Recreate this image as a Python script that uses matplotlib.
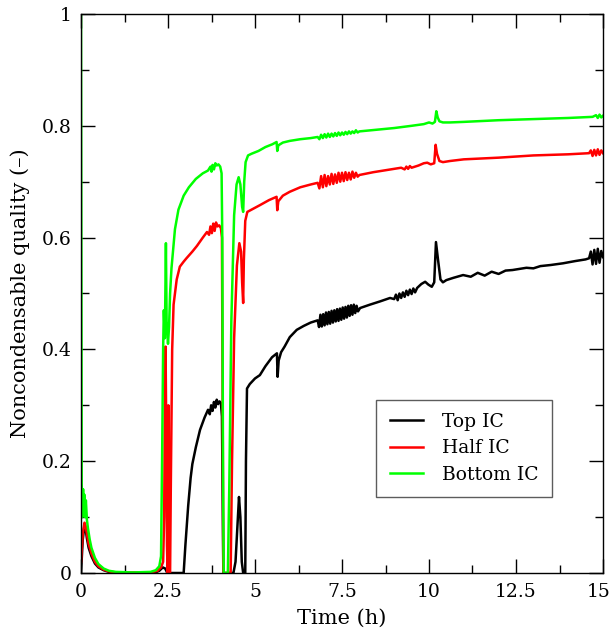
import matplotlib
matplotlib.use("Agg")
import matplotlib.pyplot as plt
import matplotlib.transforms as mtransforms
from matplotlib.ticker import MultipleLocator

plt.rcParams['font.family'] = ['DejaVu Serif']

# ---------------- data ----------------
t_bottom = [0.0, 0.02, 0.04, 0.06, 0.08, 0.1, 0.12, 0.14, 0.17, 0.2, 0.25, 0.3, 0.4, 0.5, 0.65, 0.8, 1.0, 1.5,
            2.0, 2.15, 2.25, 2.3, 2.33, 2.36, 2.38, 2.41, 2.44, 2.46, 2.5, 2.53, 2.56, 2.6, 2.7, 2.8, 2.95, 3.1,
            3.3, 3.5, 3.65, 3.72, 3.75, 3.78, 3.82, 3.86, 3.9, 3.95, 4.0, 4.04, 4.06, 4.08, 4.1, 4.22, 4.26, 4.32,
            4.4, 4.47, 4.53, 4.58, 4.63, 4.66, 4.69, 4.73, 4.8, 4.9, 5.1, 5.3, 5.5, 5.62, 5.64, 5.67, 5.8, 6.0,
            6.3, 6.6, 6.8, 6.85, 6.9, 6.95, 7.0, 7.05, 7.1, 7.15, 7.2, 7.25, 7.3, 7.35, 7.4, 7.45, 7.5, 7.55,
            7.6, 7.65, 7.7, 7.75, 7.8, 7.85, 7.9, 7.95, 8.0, 8.5, 9.0, 9.5, 9.85, 10.0, 10.1, 10.17, 10.21,
            10.25, 10.3, 10.4, 10.6, 11.0, 12.0, 13.0, 14.0, 14.7, 14.8, 14.85, 14.9, 14.95, 15.0]
y_bottom = [1.0, 0.16, 0.10, 0.15, 0.11, 0.14, 0.10, 0.13, 0.095, 0.08, 0.06, 0.045, 0.027, 0.016, 0.008, 0.004,
            0.002, 0.001, 0.002, 0.005, 0.012, 0.03, 0.2, 0.4, 0.47, 0.42, 0.59, 0.45, 0.41, 0.44, 0.50, 0.545,
            0.615, 0.65, 0.675, 0.69, 0.705, 0.715, 0.72, 0.727, 0.718, 0.73, 0.722, 0.733, 0.729, 0.731, 0.727,
            0.715, 0.6, 0.2, 0.0, 0.0, 0.15, 0.45, 0.64, 0.695, 0.708, 0.695, 0.655, 0.646, 0.7, 0.735, 0.747,
            0.75, 0.755, 0.762, 0.767, 0.771, 0.755, 0.765, 0.77, 0.773, 0.776, 0.778, 0.78, 0.776, 0.784, 0.778,
            0.785, 0.779, 0.786, 0.78, 0.786, 0.781, 0.787, 0.782, 0.788, 0.783, 0.788, 0.784, 0.789, 0.785, 0.79,
            0.786, 0.79, 0.787, 0.792, 0.788, 0.79, 0.793, 0.796, 0.8, 0.803, 0.806, 0.804, 0.807, 0.826, 0.815,
            0.808, 0.806, 0.806, 0.807, 0.81, 0.812, 0.814, 0.816, 0.819, 0.814, 0.82, 0.815, 0.818]

t_half = [0.0, 0.05, 0.1, 0.13, 0.17, 0.22, 0.3, 0.4, 0.5, 0.65, 0.8, 1.0, 2.0, 2.2, 2.3, 2.36, 2.39, 2.41, 2.43,
          2.45, 2.47, 2.49, 2.51, 2.52, 2.54, 2.56, 2.58, 2.62, 2.66, 2.75, 2.84, 2.95, 3.03, 3.2, 3.33, 3.5, 3.62,
          3.68, 3.72, 3.76, 3.8, 3.84, 3.88, 3.92, 3.97, 4.02, 4.05, 4.07, 4.09, 4.3, 4.34, 4.4, 4.48, 4.55, 4.6,
          4.63, 4.66, 4.68, 4.72, 4.78, 4.9, 5.14, 5.4, 5.62, 5.64, 5.67, 5.8, 6.0, 6.3, 6.6, 6.8, 6.85, 6.9, 6.95,
          7.0, 7.05, 7.1, 7.15, 7.2, 7.25, 7.3, 7.35, 7.4, 7.45, 7.5, 7.55, 7.6, 7.65, 7.7, 7.75, 7.8, 7.85, 7.9,
          7.95, 8.0, 8.4, 8.8, 9.2, 9.3, 9.35, 9.4, 9.45, 9.5, 9.7, 9.85, 9.95, 10.05, 10.15, 10.19, 10.23, 10.3,
          10.4, 10.6, 11.0, 12.0, 13.0, 14.0, 14.6, 14.65, 14.7, 14.75, 14.8, 14.85, 14.9, 14.95, 15.0]
y_half = [0.02, 0.07, 0.09, 0.085, 0.07, 0.052, 0.035, 0.02, 0.012, 0.006, 0.003, 0.001, 0.001, 0.004, 0.01,
          0.02, 0.1, 0.3, 0.405, 0.25, 0.05, 0.0, 0.3, 0.0, -0.01, 0.0, 0.15, 0.4, 0.48, 0.525, 0.548, 0.557,
          0.563, 0.575, 0.585, 0.6, 0.61, 0.605, 0.62, 0.608, 0.625, 0.612, 0.627, 0.62, 0.622, 0.617, 0.6, 0.3,
          0.0, 0.0, 0.2, 0.42, 0.55, 0.59, 0.575, 0.52, 0.483, 0.56, 0.63, 0.646, 0.65, 0.658, 0.667, 0.673,
          0.649, 0.665, 0.675, 0.682, 0.69, 0.695, 0.698, 0.688, 0.71, 0.69, 0.712, 0.692, 0.71, 0.695, 0.714,
          0.696, 0.713, 0.698, 0.716, 0.7, 0.716, 0.701, 0.717, 0.703, 0.716, 0.704, 0.718, 0.707, 0.716, 0.709,
          0.712, 0.717, 0.721, 0.725, 0.722, 0.727, 0.723, 0.728, 0.725, 0.729, 0.733, 0.734, 0.731, 0.733, 0.766,
          0.75, 0.737, 0.735, 0.737, 0.74, 0.743, 0.747, 0.749, 0.751, 0.756, 0.746, 0.757, 0.747, 0.758, 0.748,
          0.756, 0.751]

t_top = [0.0, 0.05, 0.1, 0.13, 0.17, 0.22, 0.3, 0.4, 0.5, 0.65, 0.8, 1.0, 2.1, 2.25, 2.35, 2.42, 2.48, 2.95, 3.0,
         3.08, 3.15, 3.2, 3.3, 3.42, 3.55, 3.65, 3.7, 3.74, 3.78, 3.82, 3.86, 3.9, 3.94, 3.98, 4.02, 4.05, 4.07,
         4.09, 4.38, 4.44, 4.5, 4.54, 4.58, 4.62, 4.66, 4.72, 4.74, 4.77, 4.85, 5.0, 5.14, 5.3, 5.49, 5.63, 5.65,
         5.68, 5.75, 5.85, 6.0, 6.2, 6.4, 6.6, 6.8, 6.84, 6.88, 6.92, 6.96, 7.0, 7.04, 7.08, 7.12, 7.16, 7.2,
         7.24, 7.28, 7.32, 7.36, 7.4, 7.44, 7.48, 7.52, 7.56, 7.6, 7.64, 7.68, 7.72, 7.76, 7.8, 7.84, 7.88, 7.92,
         7.96, 8.02, 8.3, 8.6, 8.88, 9.0, 9.05, 9.1, 9.15, 9.2, 9.25, 9.3, 9.35, 9.4, 9.45, 9.5, 9.55, 9.6, 9.66,
         9.78, 9.89, 9.98, 10.08, 10.15, 10.2, 10.26, 10.33, 10.4, 10.5, 10.7, 10.98, 11.2, 11.4, 11.6, 11.8,
         12.0, 12.2, 12.4, 12.6, 12.8, 13.0, 13.2, 13.5, 13.85, 14.2, 14.5, 14.6, 14.65, 14.7, 14.75, 14.8,
         14.85, 14.9, 14.95, 15.0]
y_top = [0.0, 0.06, 0.085, 0.08, 0.062, 0.045, 0.03, 0.017, 0.01, 0.005, 0.002, 0.0, 0.0, 0.004, 0.01, 0.008,
         0.0, 0.0, 0.05, 0.12, 0.17, 0.195, 0.225, 0.256, 0.278, 0.292, 0.284, 0.3, 0.29, 0.306, 0.296, 0.31,
         0.302, 0.307, 0.304, 0.28, 0.15, 0.0, 0.0, 0.02, 0.09, 0.136, 0.1, 0.02, 0.0, 0.0, 0.2, 0.33, 0.338,
         0.348, 0.354, 0.37, 0.386, 0.393, 0.351, 0.38, 0.395, 0.405, 0.422, 0.435, 0.442, 0.448, 0.452, 0.44,
         0.462, 0.441, 0.463, 0.443, 0.466, 0.445, 0.467, 0.446, 0.469, 0.448, 0.47, 0.45, 0.472, 0.451, 0.473,
         0.453, 0.475, 0.455, 0.476, 0.457, 0.478, 0.46, 0.479, 0.462, 0.48, 0.465, 0.478, 0.468, 0.474, 0.48,
         0.486, 0.492, 0.49, 0.498, 0.488, 0.5, 0.492, 0.502, 0.494, 0.505, 0.497, 0.507, 0.499, 0.509, 0.502,
         0.51, 0.517, 0.521, 0.516, 0.512, 0.52, 0.592, 0.56, 0.525, 0.52, 0.524, 0.528, 0.533, 0.53, 0.537,
         0.532, 0.539, 0.535, 0.541, 0.542, 0.544, 0.546, 0.545, 0.549, 0.551, 0.554, 0.558, 0.561, 0.563,
         0.575, 0.552, 0.578, 0.553, 0.58, 0.555, 0.576, 0.565]

series_labels = ["Top IC", "Half IC", "Bottom IC"]
series_colors = ["#000000", "#ff0000", "#00ff00"]
x_ticks = [0, 2.5, 5, 7.5, 10, 12.5, 15]
x_tick_labels = ["0", "2.5", "5", "7.5", "10", "12.5", "15"]
y_ticks = [0, 0.2, 0.4, 0.6, 0.8, 1.0]
y_tick_labels = ["0", "0.2", "0.4", "0.6", "0.8", "1"]

# ---------------- figure ----------------
fig = plt.figure(figsize=(6.14, 6.35), dpi=100)
ax = fig.add_axes([81/614, 1 - 573/635, 522/614, 559/635])

for t, y, lab, col in zip([t_top, t_half, t_bottom], [y_top, y_half, y_bottom], series_labels, series_colors):
    ax.plot(t, y, color=col, lw=1.8, label=lab, solid_joinstyle='round')

ax.set_xlim(0, 15)
ax.set_ylim(0, 1)
ax.set_xticks(x_ticks)
ax.set_xticklabels(x_tick_labels)
ax.set_yticks(y_ticks)
ax.set_yticklabels(y_tick_labels)
ax.xaxis.set_minor_locator(MultipleLocator(1.25))
ax.yaxis.set_minor_locator(MultipleLocator(0.1))
ax.tick_params(which='both', direction='in', top=True, right=True, labelsize=13.5, width=1.0, pad=7)
ax.tick_params(which='major', length=10)
ax.tick_params(which='minor', length=6)
for s in ax.spines.values():
    s.set_linewidth(1.0)

# keep the last x tick label inside the canvas
last = ax.get_xticklabels()[-1]
last.set_transform(last.get_transform() + mtransforms.ScaledTranslation(-4/100, 0, fig.dpi_scale_trans))

ax.set_xlabel("Time (h)", fontsize=15, labelpad=6)
ax.set_ylabel("Noncondensable quality (\u2013)", fontsize=15, labelpad=8)

leg = ax.legend(loc='lower right', bbox_to_anchor=(0.902, 0.136), fontsize=13.5, frameon=True,
                fancybox=False, edgecolor='#333333', handlelength=1.8, borderpad=0.7, labelspacing=0.45,
                handletextpad=1.0, borderaxespad=0)
leg.get_frame().set_linewidth(1.0)

fig.savefig("out.png", dpi=100)
